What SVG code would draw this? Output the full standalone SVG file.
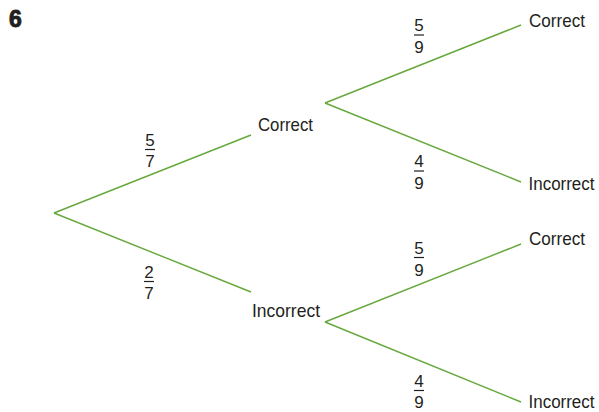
<svg xmlns="http://www.w3.org/2000/svg" width="599" height="412" viewBox="0 0 599 412">
<style>
.br{stroke:#66a83c;stroke-width:1.4;fill:none}
.lbl{font-family:"Liberation Sans",Arial,sans-serif;font-size:19px;fill:#231f20}
.edge{font-size:18px}
.fr{font-family:"Liberation Sans",Arial,sans-serif;font-size:17px;fill:#231f20;text-anchor:middle}
.bar{stroke:#231f20;stroke-width:1.2}
.num{font-family:"Liberation Sans",Arial,sans-serif;font-weight:bold;font-size:23px;fill:#231f20}
</style>
<rect width="599" height="412" fill="#fff"/>
<text class="num" x="9" y="27" stroke="#231f20" stroke-width="0.9">6</text>
<g id="connectors">
<line class="br" x1="54" y1="213" x2="251" y2="135"/>
<line class="br" x1="54" y1="213" x2="251" y2="292"/>
<line class="br" x1="325" y1="103" x2="521" y2="25"/>
<line class="br" x1="325" y1="103" x2="521" y2="182"/>
<line class="br" x1="325" y1="322" x2="521" y2="244"/>
<line class="br" x1="325" y1="322" x2="521" y2="402"/>
</g>
<g id="p57"><text class="fr" x="150" y="145.5">5</text><line class="bar" x1="145" y1="149.5" x2="155" y2="149.5"/><text class="fr" x="150" y="167">7</text></g>
<g id="p27"><text class="fr" x="149" y="277.5">2</text><line class="bar" x1="144" y1="281.5" x2="154" y2="281.5"/><text class="fr" x="149" y="298.5">7</text></g>
<g id="p59a"><text class="fr" x="419" y="31">5</text><line class="bar" x1="414" y1="35" x2="424" y2="35"/><text class="fr" x="419" y="52.5">9</text></g>
<g id="p49a"><text class="fr" x="419" y="167">4</text><line class="bar" x1="414" y1="171" x2="424" y2="171"/><text class="fr" x="419" y="189">9</text></g>
<g id="p59b"><text class="fr" x="419" y="253.5">5</text><line class="bar" x1="414" y1="257.5" x2="424" y2="257.5"/><text class="fr" x="419" y="276">9</text></g>
<g id="p49b"><text class="fr" x="419" y="386.5">4</text><line class="bar" x1="414" y1="390.5" x2="424" y2="390.5"/><text class="fr" x="419" y="408">9</text></g>
<g id="n-correct1"><text class="lbl" x="258" y="131" textLength="55" lengthAdjust="spacingAndGlyphs">Correct</text></g>
<g id="n-incorrect1"><text class="lbl" x="252" y="317" textLength="68" lengthAdjust="spacingAndGlyphs">Incorrect</text></g>
<g id="n-cc"><text class="lbl" x="529" y="27" textLength="56" lengthAdjust="spacingAndGlyphs">Correct</text></g>
<g id="n-ci"><text class="lbl edge" x="528.5" y="190" textLength="66" lengthAdjust="spacingAndGlyphs">Incorrect</text></g>
<g id="n-ic"><text class="lbl" x="529" y="245" textLength="56" lengthAdjust="spacingAndGlyphs">Correct</text></g>
<g id="n-ii"><text class="lbl edge" x="528.5" y="407.5" textLength="66" lengthAdjust="spacingAndGlyphs">Incorrect</text></g>
</svg>
